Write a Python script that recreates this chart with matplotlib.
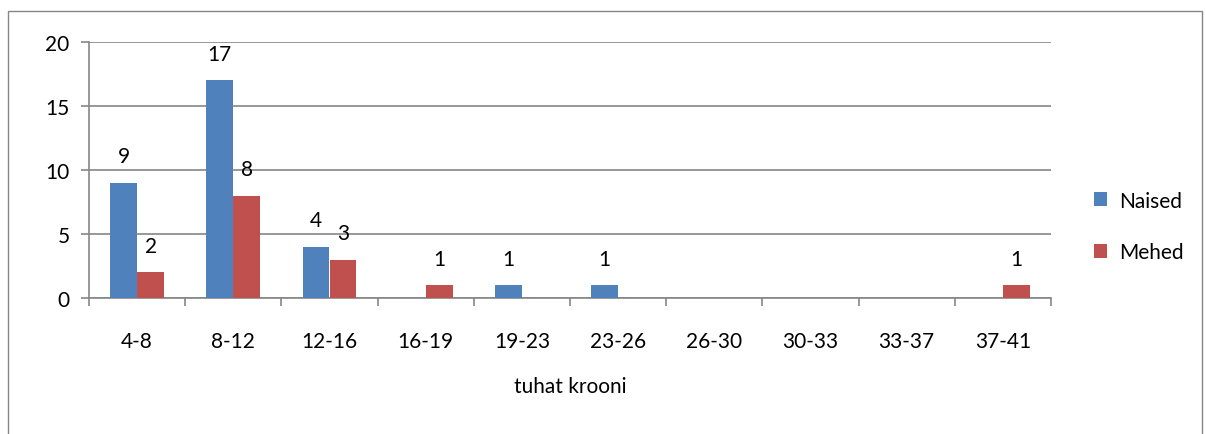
import numpy as np
import matplotlib
matplotlib.use("Agg")
import matplotlib.pyplot as plt
from matplotlib.patches import Rectangle

categories = ['4-8', '8-12', '12-16', '16-19', '19-23', '23-26', '26-30', '30-33', '33-37', '37-41']
naised = [9, 17, 4, 0, 1, 1, 0, 0, 0, 0]
mehed = [2, 8, 3, 1, 0, 0, 0, 0, 0, 1]

plt.rcParams['font.family'] = ['Lato', 'DejaVu Sans']

fig = plt.figure(figsize=(12.06, 4.35), dpi=100)
ax = fig.add_axes([89 / 1206, 1 - 299 / 435, (1051 - 89) / 1206, (299 - 43) / 435])

# outer chart frame
fig.patches.append(Rectangle((8 / 1206, -0.01), (1202 - 8) / 1206, 1 - 12 / 435 + 0.01,
                             transform=fig.transFigure, fill=False,
                             edgecolor='#868686', linewidth=1))

x = np.arange(len(categories))
w = 0.28
blue = '#4f81bd'
red = '#c0504d'
b1 = ax.bar(x - w / 2, naised, w, color=blue, label='Naised', zorder=3)
b2 = ax.bar(x + w / 2, mehed, w, color=red, label='Mehed', zorder=3)

for bars, vals in ((b1, naised), (b2, mehed)):
    for rect, v in zip(bars, vals):
        if v == 0:
            continue
        ax.annotate(str(v), (rect.get_x() + rect.get_width() / 2, v),
                    xytext=(0, 19), textcoords='offset points',
                    ha='center', va='center', fontsize=15)

ax.set_xlim(-0.5, len(categories) - 0.5)
ax.set_ylim(0, 20)
ax.set_yticks([0, 5, 10, 15, 20])
ax.yaxis.grid(True, color='#868686', linewidth=1.2, zorder=0)
ax.set_axisbelow(True)

ax.set_xticks(x)
ax.set_xticklabels(categories, fontsize=15)
ax.set_xticks(np.arange(-0.5, len(categories)), minor=True)
ax.tick_params(axis='x', which='major', length=0, pad=24)
ax.tick_params(axis='x', which='minor', length=6, width=1.2, color='#868686')
ax.tick_params(axis='y', length=6, width=1.2, color='#868686', labelsize=15, pad=8)

for s in ('top', 'right'):
    ax.spines[s].set_visible(False)
for s in ('left', 'bottom'):
    ax.spines[s].set_color('#868686')
    ax.spines[s].set_linewidth(1.2)

ax.set_xlabel('tuhat krooni', fontsize=15, labelpad=18)

ax.legend(loc='center left', bbox_to_anchor=(1.025, 0.28), frameon=False,
          fontsize=15, handlelength=0.65, handleheight=0.65, handletextpad=0.55,
          labelspacing=1.5)

fig.savefig('out.png', dpi=100)
